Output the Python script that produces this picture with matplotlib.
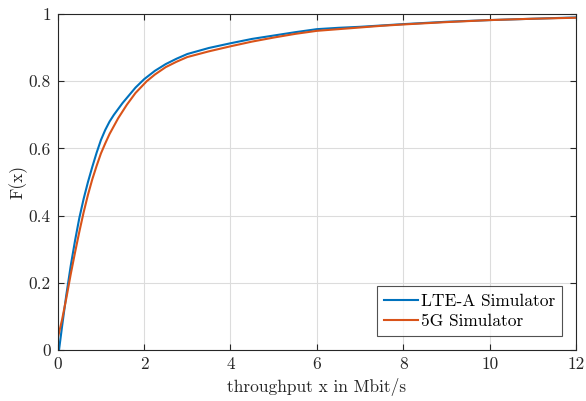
import matplotlib
matplotlib.use("Agg")
import matplotlib.pyplot as plt

plt.rcParams["font.family"] = "serif"
plt.rcParams["font.serif"] = ["cmr10"]
plt.rcParams["mathtext.fontset"] = "cm"
plt.rcParams["axes.unicode_minus"] = False

# empirical CDF of user throughput, Mbit/s
lte_x = [0.03, 0.10, 0.20, 0.30, 0.40, 0.50, 0.60, 0.70, 0.80, 0.90,
         1.00, 1.10, 1.20, 1.30, 1.50, 1.80, 2.00, 2.25, 2.50, 2.75, 3.00, 3.50, 4.00,
         4.50, 5.00, 5.50, 6.00, 6.50, 7.00, 7.50, 8.00, 9.00, 10.00, 11.00, 12.00]
lte_f = [0.0, 0.07, 0.165, 0.25, 0.325, 0.393, 0.45, 0.50, 0.545, 0.587,
         0.625, 0.655, 0.68, 0.70, 0.735, 0.781, 0.806, 0.831, 0.851, 0.867, 0.881, 0.899, 0.913,
         0.926, 0.936, 0.946, 0.955, 0.959, 0.962, 0.966, 0.970, 0.977, 0.982, 0.986, 0.990]

nr_x = [0.0, 0.0, 0.10, 0.20, 0.30, 0.40, 0.50, 0.60, 0.70, 0.80, 0.90,
        1.00, 1.10, 1.20, 1.40, 1.60, 1.80, 2.06, 2.25, 2.50, 2.75, 3.00, 3.50, 4.00,
        4.50, 5.00, 5.50, 6.00, 6.50, 7.00, 7.50, 8.00, 9.00, 10.00, 11.00, 12.00]
nr_f = [0.0, 0.035, 0.09, 0.155, 0.225, 0.29, 0.352, 0.41, 0.462, 0.508, 0.548,
        0.585, 0.615, 0.643, 0.69, 0.73, 0.765, 0.80, 0.82, 0.842, 0.858, 0.872, 0.889, 0.904,
        0.918, 0.930, 0.941, 0.950, 0.955, 0.960, 0.965, 0.969, 0.976, 0.982, 0.986, 0.989]

xticks = [0, 2, 4, 6, 8, 10, 12]
yticks = [0, 0.2, 0.4, 0.6, 0.8, 1]
ytick_labels = ["0", "0.2", "0.4", "0.6", "0.8", "1"]

fig = plt.figure(figsize=(5.86, 4.01), dpi=100)
ax = fig.add_axes([0.0985, 0.127, 0.8845, 0.838])

ax.plot(lte_x, lte_f, color="#0072BD", lw=1.5, label="LTE-A Simulator")
ax.plot(nr_x, nr_f, color="#D95319", lw=1.5, label="5G Simulator")

ax.set_xlim(0, 12)
ax.set_ylim(0, 1)
ax.set_xticks(xticks)
ax.set_xticklabels([str(t) for t in xticks])
ax.set_yticks(yticks)
ax.set_yticklabels(ytick_labels)
ax.grid(True, color="#dcdcdc", lw=0.8)
ax.set_axisbelow(True)

ax.tick_params(direction="in", length=4, width=0.8, top=True, right=True,
               colors="#262626", labelsize=12.5, labelcolor="#262626", pad=5)
for s in ax.spines.values():
    s.set_color("#262626")
    s.set_linewidth(0.8)

ax.set_xlabel("throughput x in Mbit/s", fontsize=12.5, color="#262626", labelpad=4)
ax.set_ylabel("F(x)", fontsize=12.5, color="#262626", labelpad=1)

leg = ax.legend(loc="lower right", fontsize=12.5, frameon=True, fancybox=False,
                edgecolor="#262626", handlelength=2.0, handletextpad=0.15,
                borderpad=0.4, labelspacing=0.3, borderaxespad=0.8)
leg.get_frame().set_linewidth(0.8)

fig.savefig("out.png", dpi=100)
